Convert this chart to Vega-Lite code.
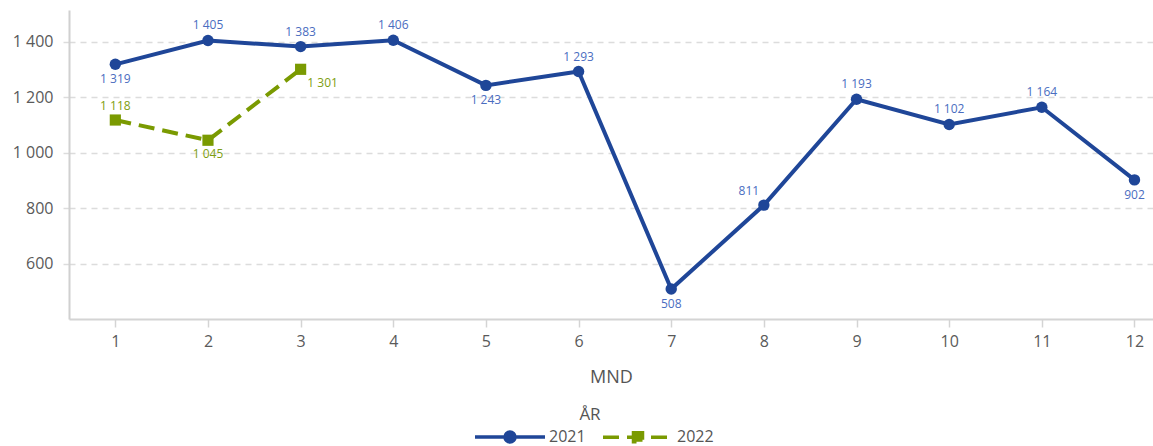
{
  "$schema": "https://vega.github.io/schema/vega-lite/v6.json",
  "width": 1084,
  "height": 309,
  "autosize": {"type": "none"},
  "padding": {"left": 69, "top": 10, "right": 0, "bottom": 127},
  "config": {
    "font": "Open Sans",
    "view": {"stroke": null},
    "locale": {"number": {"decimal": ",", "thousands": " ", "grouping": [3], "currency": ["", " kr"]}}
  },
  "data": {
    "values": [
      {"MND": 1, "AR": "2021", "verdi": 1319},
      {"MND": 2, "AR": "2021", "verdi": 1405},
      {"MND": 3, "AR": "2021", "verdi": 1383},
      {"MND": 4, "AR": "2021", "verdi": 1406},
      {"MND": 5, "AR": "2021", "verdi": 1243},
      {"MND": 6, "AR": "2021", "verdi": 1293},
      {"MND": 7, "AR": "2021", "verdi": 508},
      {"MND": 8, "AR": "2021", "verdi": 811},
      {"MND": 9, "AR": "2021", "verdi": 1193},
      {"MND": 10, "AR": "2021", "verdi": 1102},
      {"MND": 11, "AR": "2021", "verdi": 1164},
      {"MND": 12, "AR": "2021", "verdi": 902},
      {"MND": 1, "AR": "2022", "verdi": 1118},
      {"MND": 2, "AR": "2022", "verdi": 1045},
      {"MND": 3, "AR": "2022", "verdi": 1301}
    ]
  },
  "encoding": {
    "x": {
      "field": "MND", "type": "quantitative",
      "scale": {"domain": [0.5, 12.2], "nice": false, "zero": false},
      "axis": {
        "values": [1, 2, 3, 4, 5, 6, 7, 8, 9, 10, 11, 12],
        "title": "MND", "grid": false,
        "domainColor": "#d4d4d4", "domainWidth": 2,
        "tickColor": "#d4d4d4", "tickSize": 8, "tickWidth": 1.5,
        "labelFontSize": 16, "labelColor": "#5a5a5a", "labelPadding": 6,
        "titleFontSize": 18, "titleFontWeight": "normal", "titleColor": "#555555", "titlePadding": 19
      }
    },
    "y": {
      "field": "verdi", "type": "quantitative",
      "scale": {"domain": [400, 1515], "nice": false, "zero": false},
      "axis": {
        "values": [600, 800, 1000, 1200, 1400],
        "format": ",d", "title": null,
        "grid": true, "gridColor": "#dcdcdc", "gridDash": [6, 5], "gridWidth": 1.5,
        "domainColor": "#d0d0d0", "domainWidth": 2,
        "tickColor": "#dcdcdc", "tickSize": 7, "tickDash": [6, 5], "tickWidth": 1.5,
        "labelFontSize": 16, "labelColor": "#5a5a5a", "labelPadding": 9
      }
    },
    "color": {
      "field": "AR", "type": "nominal",
      "scale": {"domain": ["2021", "2022"], "range": ["#1F4698", "#7A9A01"]},
      "legend": {
        "title": "ÅR", "orient": "none", "direction": "horizontal",
        "legendX": 398, "legendY": 397,
        "titleAnchor": "middle", "titleFontSize": 17, "titleFontWeight": "normal", "titleColor": "#555555", "titlePadding": 5,
        "labelFontSize": 16, "labelColor": "#555555", "labelOffset": 66,
        "symbolSize": 4, "columnPadding": 9,
        "encode": {
          "symbols": {
            "update": {
              "shape": {"signal": "datum.value === '2021' ? 'M0,0H70M40,0A5,5 0 1,1 30,0A5,5 0 1,1 40,0' : 'M0,0H70M30.5,-4.5H39.5V4.5H30.5Z'"},
              "size": {"value": 4},
              "stroke": {"scale": "color", "field": "value"},
              "fill": {"scale": "color", "field": "value"},
              "strokeWidth": {"value": 3.5},
              "strokeDash": {"signal": "datum.value === '2021' ? [] : [16, 8]"},
              "opacity": {"value": 1},
              "fillOpacity": {"value": 1},
              "strokeOpacity": {"value": 1}
            }
          }
        }
      }
    }
  },
  "layer": [
    {"transform": [{"filter": "datum.AR === '2021'"}], "mark": {"type": "line", "strokeWidth": 4}},
    {"transform": [{"filter": "datum.AR === '2022'"}], "mark": {"type": "line", "strokeWidth": 4, "strokeDash": [16, 8]}},
    {"transform": [{"filter": "datum.AR === '2021'"}], "mark": {"type": "point", "shape": "circle", "filled": true, "size": 130, "opacity": 1}},
    {"transform": [{"filter": "datum.AR === '2022'"}], "mark": {"type": "point", "shape": "square", "filled": true, "size": 125, "opacity": 1}},
    {
      "transform": [{"filter": "datum.AR === '2021' && indexof([2,3,4,6,9,10,11], datum.MND) >= 0"}],
      "mark": {"type": "text", "fontSize": 12, "dy": -15, "baseline": "middle"},
      "encoding": {"text": {"field": "verdi", "type": "quantitative", "format": ",d"}, "color": {"value": "#4A6DBF"}}
    },
    {
      "transform": [{"filter": "datum.AR === '2021' && indexof([1,5,7,12], datum.MND) >= 0"}],
      "mark": {"type": "text", "fontSize": 12, "dy": 15, "baseline": "middle"},
      "encoding": {"text": {"field": "verdi", "type": "quantitative", "format": ",d"}, "color": {"value": "#4A6DBF"}}
    },
    {
      "transform": [{"filter": "datum.AR === '2021' && datum.MND === 8"}],
      "mark": {"type": "text", "fontSize": 12, "dx": -15, "dy": -14, "baseline": "middle"},
      "encoding": {"text": {"field": "verdi", "type": "quantitative", "format": ",d"}, "color": {"value": "#4A6DBF"}}
    },
    {
      "transform": [{"filter": "datum.AR === '2022' && datum.MND === 1"}],
      "mark": {"type": "text", "fontSize": 12, "dy": -14, "baseline": "middle"},
      "encoding": {"text": {"field": "verdi", "type": "quantitative", "format": ",d"}, "color": {"value": "#7E9E10"}}
    },
    {
      "transform": [{"filter": "datum.AR === '2022' && datum.MND === 2"}],
      "mark": {"type": "text", "fontSize": 12, "dy": 14, "baseline": "middle"},
      "encoding": {"text": {"field": "verdi", "type": "quantitative", "format": ",d"}, "color": {"value": "#7E9E10"}}
    },
    {
      "transform": [{"filter": "datum.AR === '2022' && datum.MND === 3"}],
      "mark": {"type": "text", "fontSize": 12, "dx": 22, "dy": 14, "baseline": "middle"},
      "encoding": {"text": {"field": "verdi", "type": "quantitative", "format": ",d"}, "color": {"value": "#7E9E10"}}
    }
  ]
}
